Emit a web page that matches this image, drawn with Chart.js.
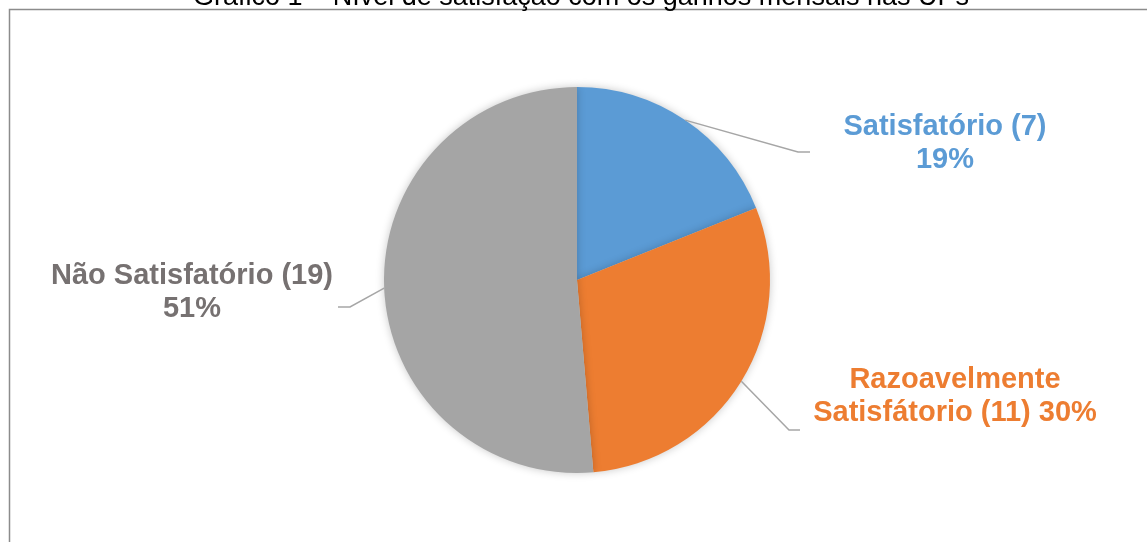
<!DOCTYPE html>
<html>
<head>
<meta charset="utf-8">
<script src="https://cdn.jsdelivr.net/npm/chart.js@4"></script>
<style>
  html, body {margin: 0; padding: 0; background: #fff;}
  #wrap {width: 1147px; height: 542px;}
</style>
</head>
<body>
<div id="wrap"><canvas id="graficoPie" width="1147" height="542"></canvas></div>
<script>
const titulo = 'Gráfico 1 – Nível de satisfação com os ganhos mensais nas UPs';
const categorias = ['Satisfatório', 'Razoavelmente Satisfátorio', 'Não Satisfatório'];
const respostas = [7, 11, 19];
const percentuais = ['19%', '30%', '51%'];
const cores = ['#5B9BD5', '#ED7D31', '#A5A5A5'];
const coresTexto = ['#5B9BD5', '#ED7D31', '#767171'];

// linhas de cada rótulo
const linhasRotulo = [
  [categorias[0] + ' (' + respostas[0] + ')', percentuais[0]],
  ['Razoavelmente', 'Satisfátorio (' + respostas[1] + ') ' + percentuais[1]],
  [categorias[2] + ' (' + respostas[2] + ')', percentuais[2]]
];
// posição do texto e cotovelo da linha guia (layout)
const posRotulo = [
  {x: 945, y: 127, ex: 798, ey: 152, hx: 810},
  {x: 955, y: 380, ex: 789, ey: 430, hx: 800},
  {x: 192, y: 276, ex: 350, ey: 307, hx: 338}
];

const moldura = {
  id: 'moldura',
  beforeDraw(chart) {
    const ctx = chart.ctx;
    ctx.save();
    ctx.fillStyle = '#fff';
    ctx.fillRect(0, 0, chart.width, chart.height);
    ctx.strokeStyle = '#8c8c8c';
    ctx.lineWidth = 1.5;
    ctx.beginPath();
    ctx.moveTo(9.5, chart.height + 2);
    ctx.lineTo(9.5, 9.5);
    ctx.lineTo(chart.width + 2, 9.5);
    ctx.stroke();
    ctx.fillStyle = '#000';
    ctx.font = '27px "Liberation Sans", Arial, sans-serif';
    ctx.textAlign = 'center';
    ctx.textBaseline = 'alphabetic';
    ctx.fillText(titulo, 581, 5);
    ctx.restore();
  },
  beforeDatasetsDraw(chart) {
    const ctx = chart.ctx;
    ctx.save();
    ctx.shadowColor = 'rgba(0,0,0,0.22)';
    ctx.shadowBlur = 9;
  },
  afterDatasetsDraw(chart) {
    chart.ctx.restore();
  }
};

const rotulos = {
  id: 'rotulos',
  afterDraw(chart) {
    const ctx = chart.ctx;
    const arcos = chart.getDatasetMeta(0).data;
    ctx.save();
    arcos.forEach((arc, i) => {
      const p = arc.getProps(['x', 'y', 'startAngle', 'endAngle', 'outerRadius'], true);
      const meio = (p.startAngle + p.endAngle) / 2;
      const ax = p.x + Math.cos(meio) * p.outerRadius;
      const ay = p.y + Math.sin(meio) * p.outerRadius;
      const pos = posRotulo[i];
      ctx.strokeStyle = '#A6A6A6';
      ctx.lineWidth = 1.5;
      ctx.beginPath();
      ctx.moveTo(ax, ay);
      ctx.lineTo(pos.ex, pos.ey);
      ctx.lineTo(pos.hx, pos.ey);
      ctx.stroke();
      ctx.fillStyle = coresTexto[i];
      ctx.font = 'bold 29px "Liberation Sans", Arial, sans-serif';
      ctx.textAlign = 'center';
      ctx.textBaseline = 'middle';
      linhasRotulo[i].forEach((t, k) => ctx.fillText(t, pos.x, pos.y + k * 33));
    });
    ctx.restore();
  }
};

new Chart(document.getElementById('graficoPie'), {
  type: 'pie',
  data: {
    labels: categorias,
    datasets: [{
      data: respostas,
      backgroundColor: cores,
      borderWidth: 0
    }]
  },
  options: {
    responsive: false,
    animation: false,
    layout: {padding: {top: 87, bottom: 69, left: 384, right: 377}},
    plugins: {legend: {display: false}, tooltip: {enabled: false}, title: {display: false}}
  },
  plugins: [moldura, rotulos]
});
</script>
</body>
</html>
